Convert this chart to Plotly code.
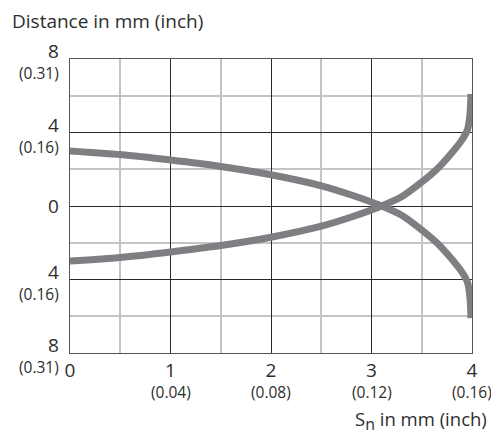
import plotly.graph_objects as go

# switching curves, distance in mm vs Sn in mm
sn_mm = [0, 0.5, 1, 1.5, 2, 2.5, 2.8, 3.1, 3.3, 3.5, 3.65, 3.8, 3.9, 3.955, 3.98, 3.99]
rising = [-3.0, -2.8, -2.5, -2.15, -1.7, -1.1, -0.6, 0, 0.5, 1.3, 2.0, 2.9, 3.6, 4.15, 5.0, 6.1]
falling = [3.0, 2.8, 2.5, 2.15, 1.7, 1.1, 0.6, 0, -0.5, -1.3, -2.0, -2.9, -3.6, -4.15, -5.0, -6.1]

x_ticks = [0, 1, 2, 3, 4]
x_inch = ["", "(0.04)", "(0.08)", "(0.12)", "(0.16)"]
y_ticks = [8, 4, 0, -4, -8]
y_num = ["8", "4", "0", "4", "8"]
y_inch = ["(0.31)", "(0.16)", "", "(0.16)", "(0.31)"]

LINE = "#7e7f83"
TXT = "#2e2e2e"
FONT = "Open Sans, Liberation Sans, sans-serif"

fig = go.Figure()
for ys in (falling, rising):
    fig.add_trace(go.Scatter(x=sn_mm, y=ys, mode="lines",
                             line=dict(color=LINE, width=7, shape="spline", smoothing=0.7),
                             showlegend=False, hoverinfo="skip"))

fig.update_xaxes(range=[0, 4], tickvals=x_ticks, ticktext=[str(v) for v in x_ticks],
                 showgrid=True, gridcolor="#2a2a2a", gridwidth=1,
                 minor=dict(tickvals=[0.5, 1.5, 2.5, 3.5], showgrid=True, gridcolor="#c4c4c4", gridwidth=1.5),
                 showline=True, mirror=True, linecolor="#555555", linewidth=1,
                 zeroline=False, ticks="", automargin=False, tickfont=dict(size=19, color=TXT))
fig.update_yaxes(range=[-8, 8], tickvals=y_ticks, showticklabels=False,
                 showgrid=True, gridcolor="#2a2a2a", gridwidth=1,
                 minor=dict(tickvals=[6, 2, -2, -6], showgrid=True, gridcolor="#c4c4c4", gridwidth=1.5),
                 showline=True, mirror=True, linecolor="#555555", linewidth=1,
                 zeroline=False, ticks="", automargin=False)

# y tick labels: number above, inch value below
for v, n, t in zip(y_ticks, y_num, y_inch):
    fig.add_annotation(text=n, xref="paper", yref="y", x=0, y=v, xanchor="right", yanchor="middle",
                       xshift=-9, yshift=(8 if t else 0), showarrow=False,
                       font=dict(size=19, color=TXT))
    if t:
        fig.add_annotation(text=t, xref="paper", yref="y", x=0, y=v, xanchor="right", yanchor="middle",
                           xshift=-9, yshift=-14, showarrow=False, font=dict(size=15.5, color=TXT))
# x inch labels under the numbers
for v, t in zip(x_ticks, x_inch):
    if t:
        fig.add_annotation(text=t, xref="x", yref="paper", x=v, y=0, xanchor="center", yanchor="middle",
                           yshift=-39, showarrow=False, font=dict(size=15.5, color=TXT))

fig.add_annotation(text="Distance in mm (inch)", xref="paper", yref="paper",
                   x=0, y=1.0, xanchor="left", yanchor="middle", xshift=-60, yshift=38,
                   showarrow=False, font=dict(size=19, color=TXT))
fig.add_annotation(text="S<sub><span style='font-size:16px'>n</span></sub> in mm (inch)",
                   xref="paper", yref="paper",
                   x=1.0, y=0, xanchor="right", yanchor="middle", xshift=17, yshift=-67,
                   showarrow=False, font=dict(size=18.5, color=TXT))

# page body keeps an 8px margin, so the figure is 8px smaller and shifted
fig.update_layout(width=491, height=428, margin=dict(l=62, r=27, t=51, b=83),
                  paper_bgcolor="white", plot_bgcolor="white",
                  font=dict(family=FONT, color=TXT))

fig.write_html("out.html")
